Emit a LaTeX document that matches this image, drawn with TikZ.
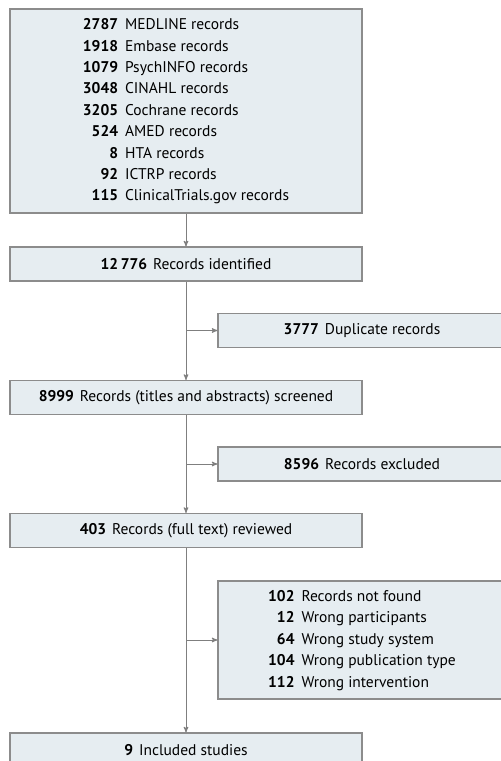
\documentclass[tikz,border=0pt]{standalone}
\usepackage{fontspec}
\setmainfont{PT Sans}
\usepackage{tikz}
\usetikzlibrary{arrows}

\definecolor{boxfill}{HTML}{E6EDF1}
\definecolor{boxline}{HTML}{8C8C8C}
\definecolor{flowline}{HTML}{7F7F7F}

\tikzset{
  flowbox/.style={rectangle,draw=boxline,fill=boxfill,line width=1.1pt,inner sep=0pt,
    font=\fontsize{15.5}{21.4}\selectfont},
  mainbox/.style={flowbox,minimum width=352pt,minimum height=34pt},
  sidebox/.style={flowbox,minimum width=288pt,minimum height=34pt},
  flow/.style={draw=flowline,line width=1pt,-stealth'}
}
\newcommand{\nrec}[2]{\textbf{#1}\hspace{6pt}#2}

\begin{document}
\begin{tikzpicture}[x=1pt,y=-1pt]
      \useasboundingbox (0,0) rectangle (501,761);
      % sources
      \node[mainbox,minimum height=204pt] (sources) at (186,111) {%
        \begin{tabular}{@{}r@{\hspace{7pt}}l@{}}
          \textbf{2787} & MEDLINE records\\
          \textbf{1918} & Embase records\\
          \textbf{1079} & PsychINFO records\\
          \textbf{3048} & CINAHL records\\
          \textbf{3205} & Cochrane records\\
          \textbf{524} & AMED records\\
          \textbf{8} & HTA records\\
          \textbf{92} & ICTRP records\\
          \textbf{115} & ClinicalTrials.gov records
        \end{tabular}};
      \node[mainbox] (ident) at (186,264) {\nrec{12\,776}{Records identified}};
      \node[sidebox] (dup) at (362,330.5) {\nrec{3777}{Duplicate records}};
      \node[mainbox] (screen) at (186,397.5) {\nrec{8999}{Records (titles and abstracts) screened}};
      \node[sidebox] (excl) at (362,464) {\nrec{8596}{Records excluded}};
      \node[mainbox] (full) at (186,530.5) {\nrec{403}{Records (full text) reviewed}};
      \node[sidebox,minimum height=118pt] (reasons) at (362,640) {%
        \begin{tabular}{@{}r@{\hspace{7pt}}l@{}}
          \textbf{102} & Records not found\\
          \textbf{12} & Wrong participants\\
          \textbf{64} & Wrong study system\\
          \textbf{104} & Wrong publication type\\
          \textbf{112} & Wrong intervention
        \end{tabular}};
      \node[mainbox] (incl) at (186,750) {\nrec{9}{Included studies}};

      % connectors
      \draw[flow] (sources) -- (ident);
      \draw[flow] (ident) -- (screen);
      \draw[flow] (screen) -- (full);
      \draw[flow] (full) -- (incl);
      \coordinate (b1) at (ident.south |- dup.west);
      \coordinate (b2) at (screen.south |- excl.west);
      \coordinate (b3) at (full.south |- reasons.west);
      \draw[flow] (b1) -- (dup);
      \draw[flow] (b2) -- (excl);
      \draw[flow] (b3) -- (reasons);
    \end{tikzpicture}
\end{document}
